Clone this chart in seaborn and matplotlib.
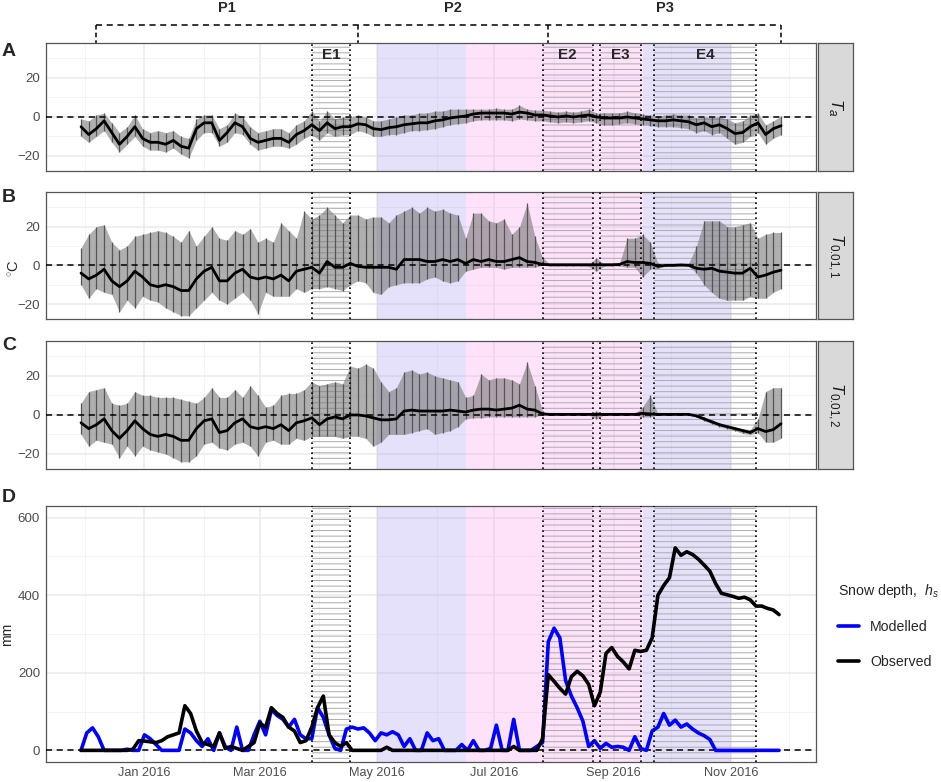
import numpy as np
import pandas as pd
import matplotlib
matplotlib.use('Agg')
import matplotlib.pyplot as plt
import matplotlib.dates as mdates
import matplotlib.transforms as mtrans
import seaborn as sns

# air / ground temperature, one value every 4 days from 29 Nov 2015 (mean, daily max, daily min)
temp_dates = pd.date_range('2015-11-29', periods=92, freq='4D')

ta_mean = [-5, -9, -6, -2, -8, -14, -10, -5, -11, -13, -13, -14, -12, -15, -16, -6, -3, -3, -12, -8,
           -3, -5, -11, -13, -12, -11, -11, -13, -9, -7, -4, -7, -3, -6, -5, -5, -3.5, -4, -6, -6.5,
           -5.5, -5, -4, -3.5, -3, -3, -2, -1.5, -0.5, 0, 0.5,
           1.5, 2, 2, 2, 2, 1.5, 2.5, 2, 1, 1, 0.5, 0, 0.5, 0, 0.5, 1, 0, -0.5, -0.5,
           -0.5, 0, -0.5, -1, -1.5, -2, -2, -1.5, -2, -2.5, -4, -3, -5, -4, -6, -8.5, -8, -5, -3, -9, -6, -4.5]
ta_hi = [-1, -2, 1, 2, -3, -8, -5, 1, -6, -8, -7, -8, -7, -10, -11, -1, 1, 1, -6, -4,
         2, 0, -5, -8, -7, -6, -6, -8, -4, -2, 3, -2, 3, -1, 0, 0, 1, 0, -2, -2,
         -1, 0, 1, 1, 2, 2, 3, 3, 4, 4, 4,
         4, 4, 4, 4.5, 4, 4, 6, 4, 3.5, 3.5, 3, 2.5, 3, 2.5, 3, 4, 2, 2, 2,
         2, 3, 2, 1.5, 1, 0.5, 1, 1.5, 1, 1, -0.5, 0, 0, 0, -1, -3, -2, 1, 2, -4, -2, 0.5]
ta_lo = [-10, -13, -10, -7, -13, -18, -14, -10, -15, -17, -17, -18, -16, -19, -21, -12, -8, -8, -15, -13,
         -8, -9, -14, -17, -16, -15, -15, -16, -14, -11, -9, -12, -8, -10, -9, -9, -7, -8, -10, -10,
         -9, -9, -8, -7, -7, -6.5, -6, -5, -4, -3.5, -3,
         -2, -1.5, -1.5, -1.5, -1.5, -2, -1, -1.5, -2, -2, -2.5, -3, -2.5, -3, -2.5, -2, -3, -4, -4,
         -3.5, -3, -3.5, -4, -4.5, -5, -5, -5, -5.5, -6, -8, -7, -9, -8, -11, -14, -13, -10, -8, -14, -11, -9]

t1_mean = [-4, -7, -5, -2, -8, -11, -8, -3, -6, -10, -11, -10, -11, -13, -13, -7, -3, -1, -8, -8,
           -4, -2, -6, -7, -6, -7, -5, -8, -3, -2, -1, -4, 2, -1, -1, 1, -0.5, -1, -1, -1,
           -1, -2, 3, 3, 3, 2,
           2, 3, 2, 3, 1, 3, 2, 3, 2, 2, 3, 4, 2, 1.5, 0.5, 0.3, 0.3, 0.3, 0.3, 0.3,
           0.3, 0.3, 0.3, 0.3, 0.5, 2, 1.5, 1.5, 1, -0.5, 0, 0, 0.2, 0, -1.5, -2, -1.5, -3, -3.5, -4,
           -4, -1.5, -6, -5, -3.5, -2.5]
t1_hi = [9, 16, 20, 21, 12, 8, 10, 15, 16, 17, 18, 17, 15, 12, 18, 10, 15, 20, 14, 13,
         18, 16, 19, 12, 14, 12, 22, 18, 14, 28, 24, 26, 30, 26, 22, 26, 26, 24, 25, 25,
         22, 26, 28, 30, 27, 30,
         28, 29, 27, 26, 14, 27, 27, 23, 22, 24, 16, 20, 32, 15, 4, 0.5, 0.5, 0.5, 0.5, 0.5,
         0.5, 4, 0.5, 0.5, 1, 14, 14, 16, 12, 1, 0.5, 0.5, 0.5, 1, 10, 23, 23, 23, 20, 20,
         21, 22, 14, 16, 17, 17]
t1_lo = [-10, -17, -12, -14, -15, -24, -18, -22, -16, -18, -19, -22, -24, -26, -26, -22, -18, -14, -18, -20,
         -17, -14, -18, -25, -14, -16, -16, -16, -12, -14, -12, -12, -11, -12, -13, -10, -8, -9, -14, -15,
         -11, -10, -9, -9, -9, -7,
         -6, -8, -9, -8, -3, -2, -1, -1, -1, -2, -1, -1, -1, -1, 0, -0.3, -0.3, -0.3, -0.3, -0.3,
         -0.5, -3, -0.3, -0.3, -0.3, -1, -1, -6, -2, -1.5, -0.3, -0.3, -0.3, -0.3, -4, -10, -14, -17, -18, -18,
         -18, -16, -17, -17, -14, -12]

t2_mean = [-4, -7, -5, -2, -8, -12, -8, -3, -7, -10, -11, -10, -11, -13, -13, -7, -3, -2, -9, -8,
           -4, -2, -6, -7, -6, -7, -5, -8, -4, -3, -1.5, -5, -2, -1, -2, 0, 0, -0.5, -1.5, -2.5,
           -2.5, -2, 2, 2.5, 2, 2,
           2, 2, 2.5, 2, 1.5, 2.5, 3, 3, 2.5, 3, 3.5, 5, 3, 2.5, 0.5, 0.3, 0.3, 0.3, 0.3, 0.3,
           0.3, 0.3, 0.3, 0.3, 0.3, 0.3, 0.3, 0.8, 0.5, 0.3, 0.3, 0.3, 0.3, 0.3, -0.5, -2, -3.5, -5, -6, -7,
           -8, -9, -7, -8.5, -7.5, -4.5]
t2_hi = [6, 12, 13, 14, 6, 5, 6, 12, 10, 10, 9, 9, 9, 8, 7, 6, 9, 14, 9, 9,
         13, 9, 15, 10, 4, 5, 10, 11, 11, 13, 17, 15, 16, 17, 16, 25, 24, 26, 24, 17,
         12, 14, 22, 23, 21, 22,
         20, 19, 18, 17, 9, 10, 21, 18, 19, 19, 18, 16, 27, 15, 2, 0.5, 0.5, 0.5, 0.5, 0.5,
         0.5, 2, 0.5, 0.5, 0.5, 0.5, 0.5, 4, 10, 0.5, 0.5, 0.5, 0.5, 0.5, 0.5, -1, -2.5, -4, -5, -6,
         -7, -7.5, -2, 12, 14, 14]
t2_lo = [-10, -16, -13, -14, -15, -22, -16, -21, -16, -18, -19, -20, -22, -24, -24, -21, -15, -14, -17, -18,
         -15, -14, -16, -21, -14, -13, -15, -15, -12, -13, -11, -11, -11, -11, -12, -11, -11, -12, -16, -14,
         -10, -10, -10, -9, -8, -7,
         -10, -9, -8, -6, -2, -1.5, -1.5, -1, -1, -1, -1, -1, -1, -1, 0, 0, 0, 0, 0, 0,
         0, -2, 0, 0, 0, 0, 0, -1, -1, 0, 0, 0, 0, 0, -1, -3, -4.5, -6, -7, -8,
         -9.5, -10, -9, -14, -14, -12]

# snow depth (mm), one value every 3 days from 29 Nov 2015
snow_dates = pd.date_range('2015-11-29', periods=122, freq='3D')
snow_mod = [0, 45, 58, 35, 0, 0, 0, 0, 3, 0, 0, 40, 30, 15, 0, 0, 0, 0, 55, 45,
            25, 10, 30, 0, 45, 10, 0, 60, 0, 0, 40, 75, 40, 105, 90, 80, 60, 80, 40, 30,
            30, 110, 85, 40, 5, 0, 55, 60, 55, 58, 45, 25, 45, 40, 48, 40, 10, 30, 0, 0,
            45, 25, 30, 0, 0, 0, 15, 0, 25, 0, 0, 5, 65, 0, 0, 80, 0, 0, 0, 10,
            20, 280, 315, 290, 180, 140, 110, 75, 10, 25, 5, 18, 8, 10, 8, 0, 35, 5, 0, 50,
            60, 95, 65, 78, 60, 68, 55, 45, 38, 28, 0, 0, 0, 0, 0, 0, 0, 0, 0, 0,
            0, 0]
snow_obs = [0, 0, 0, 0, 0, 0, 0, 0, 0, 3, 25, 24, 22, 20, 25, 35, 40, 45, 115, 95,
            50, 20, 15, 10, 45, 5, 10, 5, 0, 10, 20, 70, 60, 110, 95, 85, 60, 50, 20, 25,
            60, 110, 140, 40, 20, 10, 20, 0, 0, 0, 0, 0, 0, 8, 0, 0, 0, 0, 0, 0,
            0, 0, 0, 0, 0, 0, 0, 0, 0, 0, 0, 0, 0, 0, 0, 10, 0, 0, 0, 0,
            30, 195, 178, 160, 145, 190, 204, 192, 170, 115, 150, 250, 265, 242, 228, 210, 258, 255, 258, 290,
            400, 425, 445, 522, 503, 512, 505, 493, 478, 462, 430, 405, 401, 397, 392, 395, 388, 372, 372, 366,
            362, 350]

blue_spans = [('2016-05-01', '2016-06-16'), ('2016-09-16', '2016-11-01')]
pink_spans = [('2016-06-16', '2016-09-16')]
events = ['E1', 'E2', 'E3', 'E4']
event_start = ['2016-03-28', '2016-07-26', '2016-08-25', '2016-09-22']
event_end = ['2016-04-17', '2016-08-21', '2016-09-15', '2016-11-14']
periods = ['P1', 'P2', 'P3']
period_bounds = ['2015-12-07', '2016-04-21', '2016-07-29', '2016-11-27']

strip_labels = [r'$\mathit{T}_{\mathit{a}}$', r'$\mathit{T}_{\mathit{0.01,1}}$', r'$\mathit{T}_{\mathit{0.01,2}}$']

sns.set_style('white')
plt.rcParams['font.family'] = ['Liberation Sans', 'DejaVu Sans']
plt.rcParams['mathtext.fontset'] = 'custom'
plt.rcParams['mathtext.rm'] = 'Liberation Sans'
plt.rcParams['mathtext.it'] = 'Liberation Sans:italic'
plt.rcParams['hatch.color'] = '#ababab'
plt.rcParams['hatch.linewidth'] = 0.7

W, H = 941, 782
fig = plt.figure(figsize=(W / 100, H / 100), dpi=100)


def box(x0, y0, x1, y1):
    return [x0 / W, 1 - y1 / H, (x1 - x0) / W, (y1 - y0) / H]


span = temp_dates[-1] - temp_dates[0]
x_lo, x_hi = temp_dates[0] - 0.05 * span, temp_dates[-1] + 0.05 * span


def decorate(ax, ymaj, ymin, ylim, show_x):
    ax.set_xlim(x_lo, x_hi)
    ax.set_ylim(*ylim)
    ax.xaxis.set_major_locator(mdates.MonthLocator(bymonth=[1, 3, 5, 7, 9, 11]))
    ax.xaxis.set_minor_locator(mdates.MonthLocator(bymonth=[2, 4, 6, 8, 10, 12]))
    ax.xaxis.set_major_formatter(mdates.DateFormatter('%b %Y'))
    ax.set_yticks(ymaj)
    ax.set_yticks(ymin, minor=True)
    ax.set_axisbelow(True)
    ax.grid(True, which='major', color='#EBEBEB', lw=1.1)
    ax.grid(True, which='minor', color='#F2F2F2', lw=0.6)
    ax.tick_params(which='minor', length=0)
    ax.tick_params(which='major', length=2.8, width=0.8, color='#333333',
                   labelsize=9.6, labelcolor='#4D4D4D', pad=1.5)
    ax.tick_params(axis='x', labelsize=9.2, pad=1)
    if not show_x:
        ax.tick_params(axis='x', which='both', length=0, labelbottom=False)
    for s in ax.spines.values():
        s.set_color('#555555')
        s.set_linewidth(0.9)
    # season shading and event hatching
    for a, b in blue_spans:
        ax.axvspan(pd.Timestamp(a), pd.Timestamp(b), color='#9383EB', alpha=0.24, lw=0, zorder=1)
    for a, b in pink_spans:
        ax.axvspan(pd.Timestamp(a), pd.Timestamp(b), color='#F787EB', alpha=0.24, lw=0, zorder=1)
    for a, b in zip(event_start, event_end):
        ax.axvspan(pd.Timestamp(a), pd.Timestamp(b), facecolor='none', edgecolor='#ababab',
                   hatch='---', lw=0, zorder=1.2)
        for d in (a, b):
            ax.axvline(pd.Timestamp(d), color='black', ls=(0, (1, 2)), lw=1.2, zorder=5)
    ax.axhline(0, color='black', ls=(0, (4, 3)), lw=1.1, zorder=3)


def hide_labels(ax):
    ax.xaxis.label.set_visible(False)
    ax.yaxis.label.set_visible(False)


temp_sets = [(ta_mean, ta_hi, ta_lo), (t1_mean, t1_hi, t1_lo), (t2_mean, t2_hi, t2_lo)]
rows = [(43, 171), (192, 319), (341, 469)]

axes = []
for (mean, hi, lo), (y0, y1), lab in zip(temp_sets, rows, strip_labels):
    ax = fig.add_axes(box(46, y0, 816, y1))
    decorate(ax, [-20, 0, 20], [-10, 10, 30], (-27.7, 37.9), False)
    # hourly range: envelope plus daily spikes
    ax.fill_between(temp_dates, lo, hi, color='#7a7a7a', alpha=0.6, lw=0, zorder=2)
    ax.vlines(temp_dates, lo, hi, color='#555555', lw=0.9, zorder=2)
    sns.lineplot(x=temp_dates, y=mean, color='black', lw=2.0, ax=ax, zorder=4)
    ax.set_xlim(x_lo, x_hi)
    ax.set_ylim(-27.7, 37.9)
    hide_labels(ax)
    axes.append(ax)

    sax = fig.add_axes(box(818, y0, 853, y1))
    sax.set_facecolor('#D9D9D9')
    sax.set_xticks([])
    sax.set_yticks([])
    for s in sax.spines.values():
        s.set_color('#555555')
        s.set_linewidth(0.9)
    sax.text(0.5, 0.5, lab, rotation=-90, ha='center', va='center', fontsize=12, color='#1A1A1A',
             transform=sax.transAxes)

axA = axes[0]
for name, a, b in zip(events, event_start, event_end):
    mid = pd.Timestamp(a) + (pd.Timestamp(b) - pd.Timestamp(a)) / 2
    axA.text(mid, 31.8, name, ha='center', va='center', fontsize=11, fontweight='bold', zorder=6)

# period brackets above panel A
trans = mtrans.blended_transform_factory(axA.transData, fig.transFigure)
pb = [pd.Timestamp(p) for p in period_bounds]
y_br, y_top = 1 - 25 / H, 1 - 43 / H
axA.plot([pb[0], pb[-1]], [y_br, y_br], transform=trans, clip_on=False, color='black',
         ls=(0, (4, 3)), lw=1.1)
for p in pb:
    axA.plot([p, p], [y_br, y_top], transform=trans, clip_on=False, color='black',
             ls=(0, (3, 2)), lw=1.1)
for name, a, b in zip(periods, pb[:-1], pb[1:]):
    axA.text(a + (b - a) / 2, 1 - 8 / H, name, transform=trans, ha='center', va='center',
             fontsize=10.5, fontweight='bold')

# snow depth panel
axD = fig.add_axes(box(46, 506, 816, 762))
decorate(axD, [0, 200, 400, 600], [100, 300, 500], (-30, 630), True)
sns.lineplot(x=snow_dates, y=snow_mod, color='#0000FF', lw=2.2, ax=axD, zorder=4, label='Modelled')
sns.lineplot(x=snow_dates, y=snow_obs, color='black', lw=2.2, ax=axD, zorder=4, label='Observed')
axD.set_xlim(x_lo, x_hi)
axD.set_ylim(-30, 630)
hide_labels(axD)
handles, labels = axD.get_legend_handles_labels()
axD.get_legend().remove()
for h in handles:
    h.set_linewidth(2.6)
fig.legend(handles, labels, title=r'Snow depth,  $\mathit{h}_{\mathit{s}}$', loc='upper left',
           bbox_to_anchor=(832 / W, 1 - 576 / H), frameon=False, fontsize=10.2, title_fontsize=10.2,
           handlelength=1.5, labelspacing=1.45, alignment='left', borderaxespad=0)

for letter, yy in zip('ABCD', [51, 197, 345, 498]):
    fig.text(2 / W, 1 - yy / H, letter, fontsize=14, fontweight='bold', ha='left', va='center')
fig.text(15 / W, 1 - 268 / H, r'$^{\circ}$C', rotation=90, ha='center', va='center', fontsize=10.5)
fig.text(7 / W, 1 - 634 / H, 'mm', rotation=90, ha='center', va='center', fontsize=10)

fig.savefig('out.png', dpi=100)
